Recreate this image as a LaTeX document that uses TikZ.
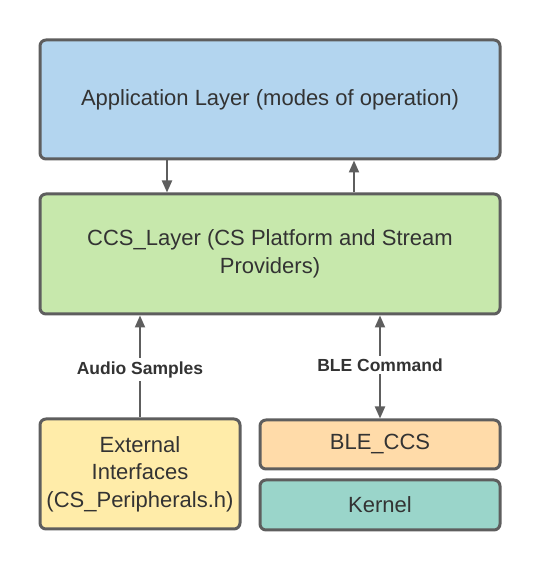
\documentclass[tikz,border=0pt]{standalone}
\usepackage{fontspec}
\setmainfont{Liberation Sans}
\usetikzlibrary{arrows.meta}

\definecolor{bordo}{HTML}{5E5E5E}
\definecolor{testo}{HTML}{333333}
\definecolor{blu}{HTML}{B3D5EF}
\definecolor{verde}{HTML}{C7E8AC}
\definecolor{giallo}{HTML}{FFECA9}
\definecolor{arancio}{HTML}{FFDBA9}
\definecolor{turchese}{HTML}{9AD5CA}

\begin{document}
\begin{tikzpicture}[x=1pt, y=1pt, font=\fontsize{22}{27.5}\selectfont, text=testo]

        % Stili per blocchi e frecce
        \tikzset{blocco/.style={draw=bordo, line width=3pt, rounded corners=6pt, align=center, inner sep=0pt},
                 freccia/.style={draw=bordo, line width=2pt, -{Triangle[length=12pt, width=10pt]}},
                 etichetta/.style={fill=white, font=\fontsize{17.5}{21}\selectfont\bfseries, inner sep=3pt}}

        % Area totale dell'immagine
        \useasboundingbox (0,0) rectangle (540,570);

        % Livello applicazione in alto
        \node[blocco, fill=blu, minimum width=460, minimum height=119] (app) at (270, 470.5)
            {Application Layer (modes of operation)};

        % Livello CCS in mezzo
        \node[blocco, fill=verde, minimum width=460, minimum height=120] (ccs) at (270, 316)
            {CCS\_Layer (CS Platform and Stream\\Providers)};

        % Blocchi in basso
        \node[blocco, fill=giallo, minimum width=200, minimum height=110] (ext) at (140, 96)
            {External\\Interfaces\\(CS\_Peripherals.h)};
        \node[blocco, fill=arancio, minimum width=240, minimum height=49] (ble) at (380, 125.5) {BLE\_CCS};
        \node[blocco, fill=turchese, minimum width=240, minimum height=50] (kernel) at (380, 65) {Kernel};

        % Ascisse delle frecce tra i due livelli
        \coordinate (giu) at (167, 0);
        \coordinate (su) at (354, 0);

        % Frecce tra applicazione e CCS
        \draw[freccia] (app.south -| giu) -- (ccs.north -| giu);
        \draw[freccia] (ccs.north -| su) -- (app.south -| su);

        % Frecce dai blocchi in basso
        \draw[freccia] (ext.north) -- (ccs.south -| ext.north)
            node[etichetta, pos=0.47] (audio) {Audio Samples};
        \draw[freccia, {Triangle[length=12pt, width=10pt]}-{Triangle[length=12pt, width=10pt]}] (ble.north) -- (ccs.south -| ble.north)
            node[etichetta, pos=0.52] (cmd) {BLE Command};

    \end{tikzpicture}
\end{document}
